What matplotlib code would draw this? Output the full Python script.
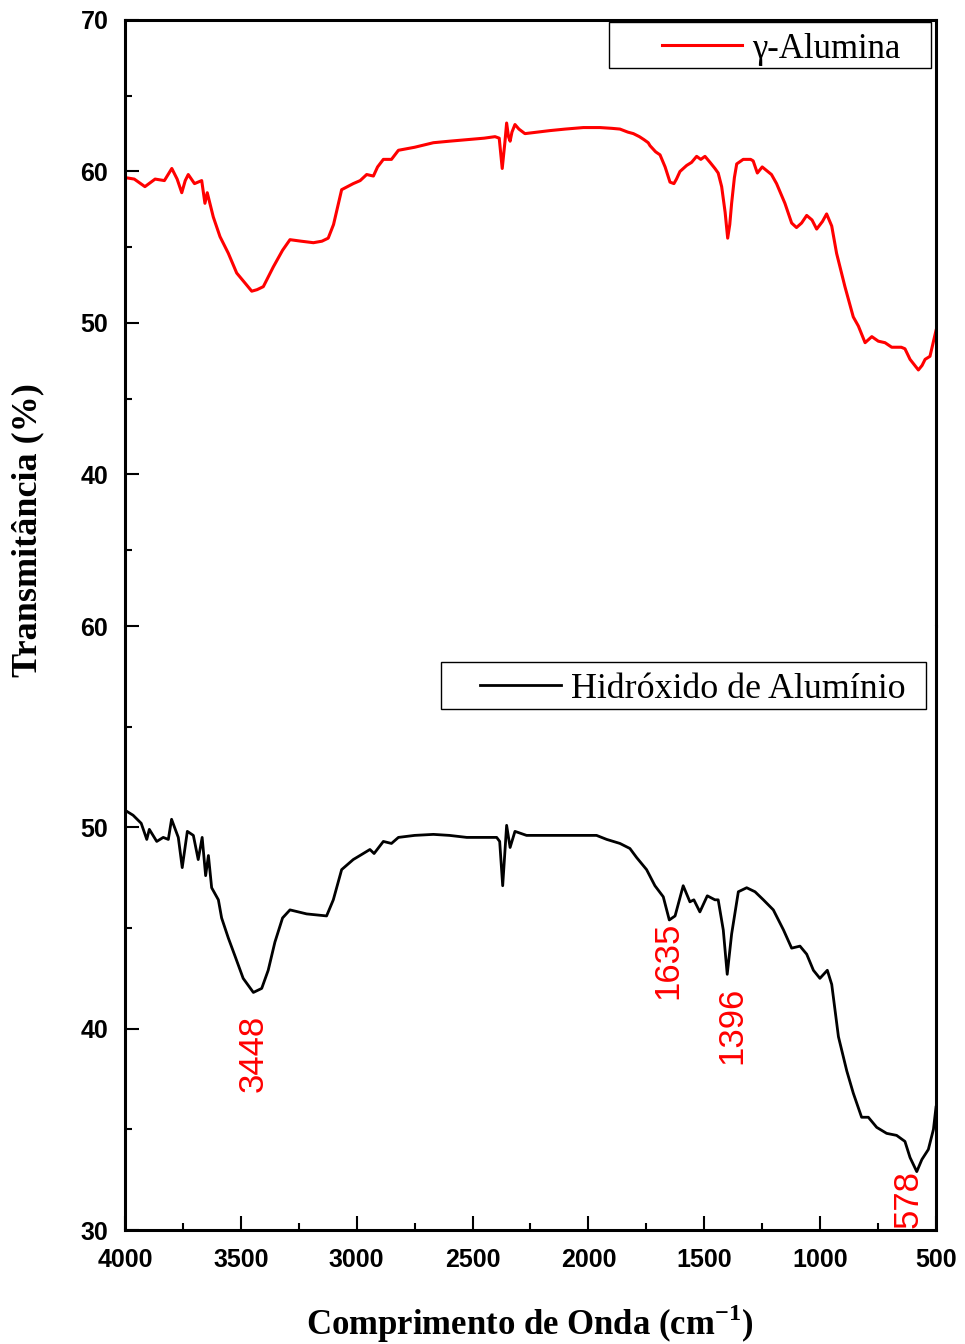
import numpy as np
import matplotlib
matplotlib.use("Agg")
import matplotlib.pyplot as plt
from matplotlib import font_manager
from matplotlib.patches import Rectangle

# gamma-alumina spectrum (top panel)
red_wn = [4000, 3960, 3914, 3870, 3830, 3798, 3775, 3755, 3740, 3727, 3700, 3669,
          3655, 3645, 3619, 3590, 3554, 3518, 3480, 3453, 3430, 3403, 3360, 3320,
          3288, 3240, 3187, 3150, 3123, 3100, 3065, 3015, 2985, 2957, 2928, 2910,
          2885, 2850, 2820, 2750, 2669, 2600, 2525, 2450, 2403, 2385, 2372, 2360,
          2353, 2345, 2338, 2330, 2317, 2300, 2274, 2166, 2100, 2022, 1950, 1900,
          1864, 1830, 1806, 1780, 1760, 1742, 1734, 1710, 1691, 1669, 1648, 1631,
          1620, 1605, 1576, 1555, 1533, 1515, 1497, 1475, 1454, 1440, 1425, 1410,
          1399, 1390, 1382, 1370, 1360, 1332, 1300, 1289, 1271, 1250, 1210, 1188,
          1152, 1123, 1102, 1080, 1058, 1035, 1015, 990, 972, 950, 929, 893, 857,
          835, 806, 777, 749, 720, 691, 650, 634, 612, 576, 560, 547, 526, 500]
red_t = [59.6, 59.5, 59.0, 59.5, 59.4, 60.2, 59.5, 58.6, 59.4, 59.8, 59.2, 59.4,
         57.9, 58.6, 57.0, 55.7, 54.6, 53.3, 52.6, 52.1, 52.2, 52.4, 53.7, 54.8,
         55.5, 55.4, 55.3, 55.4, 55.6, 56.5, 58.8, 59.2, 59.4, 59.8, 59.7, 60.3,
         60.8, 60.8, 61.4, 61.6, 61.9, 62.0, 62.1, 62.2, 62.3, 62.2, 60.2, 62.0,
         63.2, 62.3, 62.0, 62.6, 63.1, 62.8, 62.5, 62.7, 62.8, 62.9, 62.9, 62.85,
         62.8, 62.6, 62.5, 62.3, 62.1, 61.9, 61.7, 61.3, 61.1, 60.3, 59.3, 59.2,
         59.5, 60.0, 60.4, 60.6, 61.0, 60.8, 61.0, 60.6, 60.2, 59.9, 59.0, 57.3,
         55.6, 56.5, 57.9, 59.6, 60.5, 60.8, 60.8, 60.7, 59.9, 60.3, 59.8, 59.2,
         57.9, 56.6, 56.3, 56.6, 57.1, 56.8, 56.2, 56.7, 57.2, 56.4, 54.6, 52.4, 50.4,
         49.8, 48.7, 49.1, 48.8, 48.7, 48.4, 48.4, 48.3, 47.6, 46.9, 47.2, 47.6, 47.8, 49.5]

# aluminium hydroxide spectrum (bottom panel)
blk_wn = [4000, 3965, 3930, 3906, 3895, 3863, 3835, 3813, 3799, 3770, 3753, 3731,
          3705, 3684, 3667, 3652, 3640, 3626, 3597, 3583, 3554, 3525, 3490, 3446,
          3410, 3382, 3353, 3320, 3288, 3216, 3130, 3101, 3065, 3015, 2986, 2943,
          2925, 2885, 2850, 2820, 2750, 2669, 2600, 2525, 2450, 2396, 2383, 2370,
          2353, 2338, 2317, 2267, 2095, 1965, 1921, 1864, 1821, 1792, 1749, 1713,
          1677, 1651, 1626, 1591, 1562, 1545, 1519, 1487, 1454, 1440, 1418, 1401,
          1382, 1353, 1317, 1281, 1245, 1202, 1158, 1123, 1087, 1058, 1029, 1001,
          969, 950, 921, 885, 857, 821, 792, 756, 713, 670, 634, 612, 583, 561,
          533, 511, 500]
blk_t = [50.85, 50.6, 50.2, 49.4, 49.9, 49.3, 49.5, 49.4, 50.4, 49.5, 48.0, 49.8,
         49.6, 48.4, 49.5, 47.6, 48.6, 47.0, 46.4, 45.5, 44.5, 43.6, 42.5, 41.8,
         42.0, 42.9, 44.3, 45.5, 45.9, 45.7, 45.6, 46.4, 47.9, 48.4, 48.6, 48.9,
         48.7, 49.3, 49.2, 49.5, 49.6, 49.65, 49.6, 49.5, 49.5, 49.5, 49.3, 47.1,
         50.1, 49.0, 49.8, 49.6, 49.6, 49.6, 49.4, 49.2, 48.95, 48.5, 47.9, 47.1,
         46.55, 45.4, 45.6, 47.1, 46.3, 46.4, 45.8, 46.6, 46.4, 46.4, 44.9, 42.7,
         44.7, 46.8, 47.0, 46.8, 46.4, 45.9, 44.9, 44.0, 44.1, 43.7, 42.9, 42.5,
         42.9, 42.2, 39.6, 37.9, 36.8, 35.6, 35.6, 35.1, 34.8, 34.7, 34.4, 33.6, 32.9, 33.5,
         34.0, 35.0, 36.1]

peak_labels = ["3448", "1635", "1396", "578"]
peak_x = [3448, 1659, 1383, 621]
peak_y = [40.7, 45.3, 42.1, 33.0]

names = {f.name for f in font_manager.fontManager.ttflist}
tick_font = "Liberation Sans Narrow" if "Liberation Sans Narrow" in names else "Liberation Sans"
serif = "Liberation Serif"

plt.rcParams["mathtext.fontset"] = "custom"
plt.rcParams["mathtext.rm"] = "Liberation Serif:bold"
plt.rcParams["mathtext.bf"] = "Liberation Serif:bold"

fig = plt.figure(figsize=(9.65, 13.44), dpi=100)
ax1 = fig.add_axes([0.12953, 0.53423, 0.84041, 0.45089])
ax2 = fig.add_axes([0.12953, 0.08482, 0.84041, 0.44940])

ax1.plot(red_wn, red_t, color="#ff0000", lw=2.2)
ax2.plot(blk_wn, blk_t, color="black", lw=2.0)

for ax in (ax1, ax2):
    ax.set_xlim(4000, 500)
    for s in ax.spines.values():
        s.set_linewidth(2.2)
    ax.tick_params(which="both", direction="in", width=1.5, right=False, top=False)
    ax.tick_params(which="major", length=10)
    ax.tick_params(which="minor", length=5)
    ax.tick_params(axis="y", pad=12)
    ax.tick_params(axis="x", pad=13)

ax1.spines["bottom"].set_visible(False)
ax2.spines["top"].set_visible(False)

ax1.set_ylim(30, 70)
ax1.set_yticks([40, 50, 60, 70])
ax1.set_yticks([35, 45, 55, 65], minor=True)
ax1.tick_params(axis="x", which="both", bottom=False, labelbottom=False)

ax2.set_ylim(30, 60)
ax2.set_yticks([30, 40, 50, 60])
ax2.set_yticks([35, 45, 55], minor=True)
ax2.set_xticks(np.arange(4000, 499, -500))
ax2.set_xticks(np.arange(3750, 500, -500), minor=True)

for ax in (ax1, ax2):
    for lab in ax.get_xticklabels() + ax.get_yticklabels():
        lab.set_fontfamily(tick_font)
        lab.set_fontweight("bold")
        lab.set_fontsize(18)

# legends (frame drawn separately to match the original box)
leg1 = ax1.legend(["γ-Alumina"], loc="center left", bbox_to_anchor=(0.6621, 0.952),
                  frameon=False, borderpad=0, borderaxespad=0, handlelength=2.3,
                  handletextpad=0.3, prop={"family": serif, "size": 25})
ax1.add_patch(Rectangle((0.5968, 0.9208), 0.3970, 0.0759, transform=ax1.transAxes,
                        fill=False, lw=1.0, ec="black", clip_on=False))
leg2 = ax2.legend(["Hidróxido de Alumínio"], loc="center left", bbox_to_anchor=(0.4377, 0.895),
                  frameon=False, borderpad=0, borderaxespad=0, handlelength=2.25,
                  handletextpad=0.3, prop={"family": serif, "size": 25.8})
ax2.add_patch(Rectangle((0.3896, 0.8626), 0.5981, 0.0778, transform=ax2.transAxes,
                        fill=False, lw=1.0, ec="black", clip_on=False))

for lab, x, y in zip(peak_labels, peak_x, peak_y):
    ax2.text(x, y, lab, rotation=90, ha="center", va="top", color="#ff0000",
             fontsize=25, family="Liberation Sans")

fig.text(28 / 965, 1 - 530 / 1344, "Transmitância (%)", rotation=90, ha="center",
         va="center", fontsize=26, fontweight="bold", family=serif)
fig.text(530 / 965, 1 - 1324 / 1344, r"Comprimento de Onda (cm$^{\mathbf{-1}}$)",
         ha="center", va="center", fontsize=25, fontweight="bold", family=serif)

fig.savefig("out.png", dpi=100)
